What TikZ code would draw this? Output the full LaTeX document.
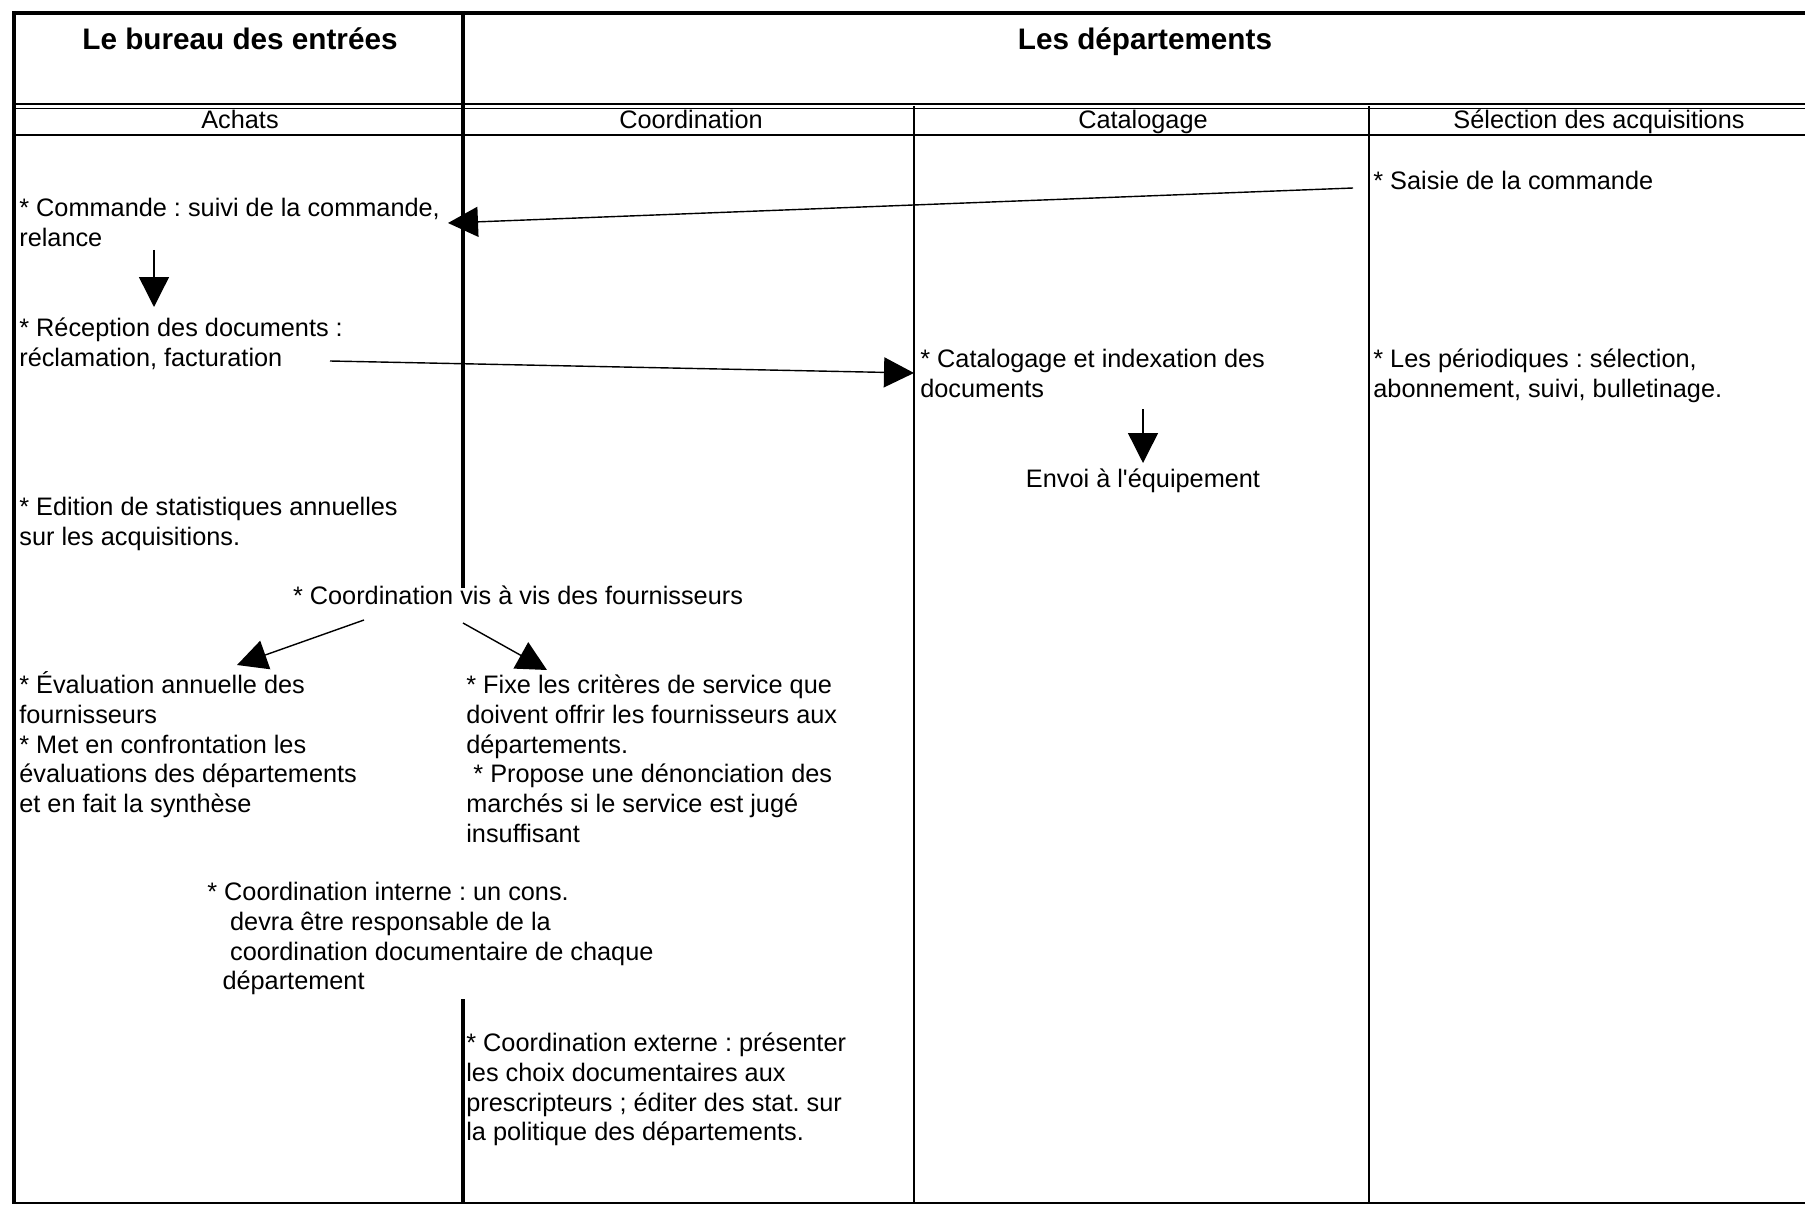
\documentclass[tikz,border=0pt]{standalone}
\usepackage{fontspec}
\setmainfont{Liberation Sans}
\usepackage{tikz}
\usetikzlibrary{arrows.meta}
\tikzset{
    titlenode/.style = {draw=none, fill=none, rectangle, inner sep=0em, anchor=base, font=\fontsize{16.9pt}{20pt}\selectfont\bfseries},
    headnode/.style = {draw=none, fill=none, rectangle, inner sep=0em, anchor=base, font=\fontsize{14.4pt}{16.85pt}\selectfont},
    cellnode/.style = {draw=none, fill=none, rectangle, inner sep=0em, anchor=base west, align=left, font=\fontsize{14.4pt}{16.85pt}\selectfont},
    thickline/.style = {black, line width=2.6pt},
    thinline/.style = {black, line width=1pt},
    headline/.style = {black, line width=0.9pt},
    connect/.style = {black, line width=0.8pt, -{Triangle[length=0.6cm, width=0.6cm]}}
}

\begin{document}
\frenchspacing
\begin{tikzpicture}[x=0.02cm, y=-0.02cm]
\useasboundingbox (0,0) rectangle (1805,1206);

\draw[thickline] (14,13) -- (1805,13);
\draw[thickline] (14,11) -- (14,1204);
\draw[thinline, line width=1.3pt] (13,1203) -- (1805,1203);
\draw[headline] (14,104) -- (1805,104);
\draw[headline] (14,108.5) -- (1805,108.5);
\draw[thinline, line width=1.6pt] (14,135) -- (1805,135);
\draw[thickline] (463,11) -- (463,588);
\draw[thickline] (463,999) -- (463,1204);
\draw[thinline] (914,106) -- (914,1204);
\draw[thinline] (1369,106) -- (1369,1204);

\node[titlenode] (bureau) at (240,50) {Le bureau des entrées};
\node[titlenode] (depts) at (1145,50) {Les départements};
\node[headnode] (achats) at (240,129) {Achats};
\node[headnode] (coord) at (691,129) {Coordination};
\node[headnode] (catal) at (1143,129) {Catalogage};
\node[headnode] (select) at (1599,129) {Sélection des acquisitions};

% multi-line nodes sit on the baseline of their last line
\node[cellnode] (commande) at (19,246.6) {* Commande : suivi de la commande,\\relance};
\node[cellnode] (reception) at (19,366.6) {* Réception des documents :\\réclamation, facturation};
\node[cellnode] (edition) at (19,545.6) {* Edition de statistiques annuelles\\sur les acquisitions.};
\node[headnode] (visavis) at (518,604) {* Coordination vis à vis des fournisseurs};
\node[cellnode] (evaluation) at (19,812.4) {* Évaluation annuelle des\\fournisseurs\\* Met en confrontation les\\évaluations des départements\\et en fait la synthèse};
\node[cellnode] (criteres) at (466,842) {* Fixe les critères de service que\\doivent offrir les fournisseurs aux\\départements.\\\hspace{0.28em}* Propose une dénonciation des\\marchés si le service est jugé\\insuffisant};
\node[cellnode] (interne) at (207,989.8) {* Coordination interne : un cons.\\\hspace{0.9em}devra être responsable de la\\\hspace{0.9em}coordination documentaire de chaque\\\hspace{0.6em}département};
\node[cellnode] (externe) at (466,1140.8) {* Coordination externe : présenter\\les choix documentaires aux\\prescripteurs ; éditer des stat. sur\\la politique des départements.};

\node[cellnode] (saisie) at (1373,190) {* Saisie de la commande};
\node[cellnode] (indexation) at (920,397.6) {* Catalogage et indexation des\\documents};
\node[headnode] (envoi) at (1143,487) {Envoi à l\textquotesingle équipement};
\node[cellnode] (periodiques) at (1373,397.6) {* Les périodiques : sélection,\\abonnement, suivi, bulletinage.};

\coordinate (cmdout) at (154,250);
\coordinate (recin) at (154,307);
\coordinate (recout) at (330,361);
\coordinate (idxin) at (914,373);
\coordinate (saisieout) at (1353,188);
\coordinate (cmdin) at (448,223);
\coordinate (idxout) at (1143,409);
\coordinate (envoiin) at (1143,463);
\coordinate (visleft) at (364,620);
\coordinate (evalin) at (237,665);
\coordinate (visright) at (463,623);
\coordinate (critin) at (547,670);

\draw[connect] (cmdout) -- (recin);
\draw[connect] (recout) -- (idxin);
\draw[connect] (saisieout) -- (cmdin);
\draw[connect] (idxout) -- (envoiin);
\draw[connect] (visleft) -- (evalin);
\draw[connect] (visright) -- (critin);
\end{tikzpicture}
\end{document}
